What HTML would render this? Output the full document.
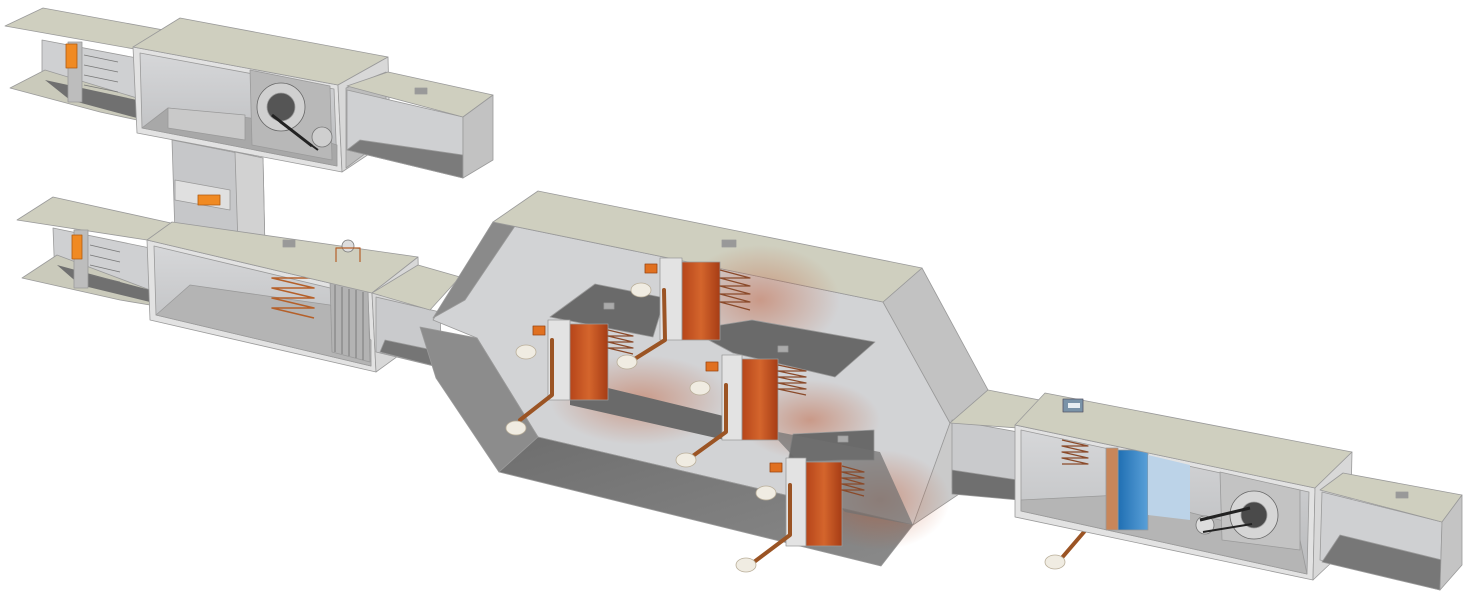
<!DOCTYPE html>
<html><head><meta charset="utf-8"><style>
html,body{margin:0;padding:0;background:#fff;}
svg{display:block}
</style></head><body>
<svg width="1469" height="599" viewBox="0 0 1469 599" xmlns="http://www.w3.org/2000/svg">
<defs>
<linearGradient id="int" x1="0" y1="0" x2="0" y2="1"><stop offset="0" stop-color="#d6d7d9"/><stop offset="1" stop-color="#b9babc"/></linearGradient>
<linearGradient id="flr" x1="0" y1="0" x2="1" y2="1"><stop offset="0" stop-color="#6e6e6e"/><stop offset="1" stop-color="#8a8a8a"/></linearGradient>
<linearGradient id="cu" x1="0" y1="0" x2="1" y2="0"><stop offset="0" stop-color="#b6451a"/><stop offset=".5" stop-color="#d4652c"/><stop offset="1" stop-color="#a63c15"/></linearGradient>
<linearGradient id="blue" x1="0" y1="0" x2="1" y2="0"><stop offset="0" stop-color="#1f6fb3"/><stop offset="1" stop-color="#5aa0d8"/></linearGradient>
<radialGradient id="glow" cx=".5" cy=".5" r=".5"><stop offset="0" stop-color="#c0532a" stop-opacity=".45"/><stop offset="1" stop-color="#c0532a" stop-opacity="0"/></radialGradient>
</defs>
<g stroke="#9a9a9a" stroke-width="0.8" stroke-linejoin="round">

<!-- TOP-LEFT small duct -->
<polygon points="42,40 137,58 137,112 42,88" fill="#cfd0d2"/>
<polygon points="10,88 45,70 137,98 137,120 100,112" fill="#cacabb"/>
<polygon points="45,80 137,100 137,118 70,100" fill="#707070" stroke="none"/>
<polygon points="5,26 43,8 180,33 140,50" fill="#cfcfbf"/>
<rect x="68" y="42" width="14" height="60" fill="#bdbdbd"/>
<rect x="66" y="44" width="11" height="24" fill="#f08a23" stroke="#b05a10"/>
<g stroke="#777"><line x1="84" y1="55" x2="118" y2="62"/><line x1="84" y1="65" x2="118" y2="72"/><line x1="84" y1="75" x2="118" y2="82"/><line x1="84" y1="85" x2="118" y2="92"/></g>

<!-- TOP unit -->
<polygon points="133,47 338,85 342,172 137,133" fill="#e2e2e2"/>
<polygon points="140,53 334,89 337,166 142,128" fill="url(#int)"/>
<polygon points="142,128 168,108 250,118 337,145 337,166" fill="#a8a8a8"/>
<polygon points="168,108 245,115 245,140 168,128" fill="#c9c9c9"/>
<polygon points="250,70 330,86 332,160 252,145" fill="#b8b8b8"/>
<circle cx="281" cy="107" r="24" fill="#d0d0d0" stroke="#666"/>
<circle cx="281" cy="107" r="14" fill="#555"/>
<circle cx="322" cy="137" r="10" fill="#cfcfcf" stroke="#777"/>
<line x1="272" y1="115" x2="312" y2="146" stroke="#222" stroke-width="3"/>
<line x1="280" y1="122" x2="318" y2="150" stroke="#222" stroke-width="2"/>
<polygon points="133,47 180,18 388,57 338,85" fill="#cfcfbf"/>
<polygon points="338,85 388,57 390,140 342,172" fill="#d8d8d8"/>
<polygon points="346,88 386,72 386,138 346,168" fill="#bdbdbd"/>

<!-- right duct of top unit -->
<polygon points="347,90 463,117 463,178 347,150" fill="#cfd0d2"/>
<polygon points="360,140 463,155 463,178 347,150" fill="#7b7b7b"/>
<polygon points="347,86 388,72 493,95 463,117" fill="#cfcfbf"/>
<polygon points="463,117 493,95 493,160 463,178" fill="#c2c2c2"/>
<rect x="415" y="88" width="12" height="6" fill="#999"/>

<!-- vertical shaft -->
<polygon points="172,140 263,158 265,250 175,235" fill="#c6c7c9"/>
<polygon points="235,152 263,158 265,250 238,245" fill="#d2d2d2"/>
<polygon points="175,180 230,190 230,210 175,200" fill="#e0e0e0"/>
<rect x="198" y="195" width="22" height="10" fill="#f08a23" stroke="#b05a10"/>

<!-- LOWER-LEFT small duct -->
<polygon points="53,228 150,248 150,300 55,280" fill="#cfd0d2"/>
<polygon points="22,278 57,255 150,290 150,305 120,300" fill="#cacabb"/>
<polygon points="57,265 150,290 150,302 80,285" fill="#707070" stroke="none"/>
<polygon points="17,220 53,197 180,225 147,240" fill="#cfcfbf"/>
<rect x="74" y="230" width="14" height="58" fill="#bdbdbd"/>
<rect x="72" y="235" width="10" height="24" fill="#f08a23" stroke="#b05a10"/>
<g stroke="#777"><line x1="90" y1="245" x2="120" y2="252"/><line x1="90" y1="255" x2="120" y2="262"/><line x1="90" y1="265" x2="120" y2="272"/><line x1="90" y1="275" x2="120" y2="282"/></g>

<!-- LOWER unit -->
<polygon points="147,240 372,293 376,372 150,320" fill="#e2e2e2"/>
<polygon points="154,246 368,297 371,366 156,315" fill="url(#int)"/>
<polygon points="156,315 190,285 330,305 371,340 371,366" fill="#b4b4b4"/>
<polygon points="330,280 368,290 370,362 332,352" fill="#b3b3b3"/>
<g stroke="#555" stroke-width="0.6"><line x1="335" y1="285" x2="335" y2="352"/><line x1="342" y1="287" x2="342" y2="354"/><line x1="349" y1="289" x2="349" y2="356"/><line x1="356" y1="290" x2="356" y2="358"/><line x1="363" y1="292" x2="363" y2="360"/></g>
<path d="M272,268 l42,10 l-42,0 l42,10 l-42,0 l42,10 l-42,0 l42,10 l-42,0 l42,10" fill="none" stroke="#b5602a" stroke-width="1.6"/>
<polygon points="147,240 172,222 418,257 372,293" fill="#cfcfbf"/>
<polygon points="372,293 418,257 420,340 376,372" fill="#d8d8d8"/>
<rect x="283" y="240" width="12" height="7" fill="#999"/>
<circle cx="348" cy="246" r="6" fill="#ddd" stroke="#777"/>
<path d="M336,262 v-14 h24 v14" fill="none" stroke="#b5602a" stroke-width="1.2"/>

<!-- lower connecting duct -->
<polygon points="376,297 440,312 442,368 376,352" fill="#c9cacc"/>
<polygon points="385,340 442,352 442,368 380,352" fill="#757575"/>
<polygon points="372,293 418,265 460,277 430,310" fill="#cfcfbf"/>

<!-- BIG HEX unit -->
<polygon points="493,222 883,302 950,423 913,525 538,437 477,338 433,320" fill="#d2d3d5"/>
<polygon points="493,222 515,226 465,300 433,318" fill="#8a8a8a"/>
<polygon points="420,327 477,338 538,437 499,472 436,378" fill="#8c8c8c"/>
<polygon points="499,472 538,437 913,525 881,566" fill="url(#flr)"/>
<polygon points="883,302 922,268 988,390 950,423" fill="#c2c2c2"/>
<polygon points="950,423 988,390 965,490 913,525" fill="#cacaca"/>
<polygon points="493,222 538,191 922,268 883,302" fill="#cfcfbf"/>
<rect x="722" y="240" width="14" height="7" fill="#999"/>
<!-- glows -->
<ellipse cx="760" cy="300" rx="80" ry="55" fill="url(#glow)" stroke="none"/>
<ellipse cx="640" cy="400" rx="90" ry="45" fill="url(#glow)" stroke="none"/>
<ellipse cx="810" cy="420" rx="70" ry="40" fill="url(#glow)" stroke="none"/>
<ellipse cx="880" cy="500" rx="70" ry="50" fill="url(#glow)" stroke="none"/>
<!-- shelves & dark floors -->
<polygon points="550,317 595,284 665,298 653,337" fill="#6a6a6a"/>
<rect x="604" y="303" width="10" height="6" fill="#aaa"/>
<polygon points="690,330 752,320 875,342 835,377 733,353" fill="#6a6a6a"/>
<rect x="778" y="346" width="10" height="6" fill="#aaa"/>
<polygon points="793,434 874,430 874,460 841,460 788,462" fill="#6a6a6a"/>
<rect x="838" y="436" width="10" height="6" fill="#aaa"/>
<polygon points="570,398 608,388 740,420 725,440 570,405" fill="#6a6a6a" stroke="none"/>
<polygon points="778,432 880,452 913,525 845,512 778,440" fill="#707070" stroke="none" opacity=".7"/>
<!-- coils -->
<rect x="660" y="258" width="22" height="82" fill="#e3e3e3"/>
<rect x="682" y="262" width="38" height="78" fill="url(#cu)"/>
<rect x="548" y="320" width="22" height="80" fill="#e3e3e3"/>
<rect x="570" y="324" width="38" height="76" fill="url(#cu)"/>
<rect x="722" y="355" width="20" height="85" fill="#e3e3e3"/>
<rect x="742" y="359" width="36" height="81" fill="url(#cu)"/>
<rect x="786" y="458" width="20" height="88" fill="#e3e3e3"/>
<rect x="806" y="462" width="36" height="84" fill="url(#cu)"/>
<g fill="none" stroke="#8a4a2a" stroke-width="1.2">
<path d="M720,270 l30,8 l-30,0 l30,8 l-30,0 l30,8 l-30,0 l30,8 l-30,0 l30,8"/>
<path d="M608,330 l25,6 l-25,0 l25,6 l-25,0 l25,6 l-25,0 l25,6"/>
<path d="M778,365 l28,6 l-28,0 l28,6 l-28,0 l28,6 l-28,0 l28,6 l-28,0 l28,6"/>
<path d="M842,466 l22,6 l-22,0 l22,6 l-22,0 l22,6 l-22,0 l22,6 l-22,0 l22,6"/>
</g>
<!-- pipes -->
<g stroke="#9b5424" stroke-width="4" fill="none" stroke-linecap="round">
<path d="M664,290 L665,340 L625,365"/><path d="M552,340 L552,395 L520,420"/>
<path d="M726,385 L726,432 L690,458"/><path d="M790,485 L790,535 L750,565"/>
<path d="M1096,478 L1096,518 L1060,560"/>
</g>
<g fill="#f0ece2" stroke="#b9ae99">
<ellipse cx="641" cy="290" rx="10" ry="7"/><ellipse cx="526" cy="352" rx="10" ry="7"/>
<ellipse cx="627" cy="362" rx="10" ry="7"/><ellipse cx="516" cy="428" rx="10" ry="7"/>
<ellipse cx="700" cy="388" rx="10" ry="7"/><ellipse cx="686" cy="460" rx="10" ry="7"/>
<ellipse cx="766" cy="493" rx="10" ry="7"/><ellipse cx="746" cy="565" rx="10" ry="7"/>
<ellipse cx="1074" cy="488" rx="10" ry="7"/><ellipse cx="1055" cy="562" rx="10" ry="7"/>
</g>
<g fill="#e07020" stroke="#9a4410">
<rect x="645" y="264" width="12" height="9"/><rect x="533" y="326" width="12" height="9"/>
<rect x="706" y="362" width="12" height="9"/><rect x="770" y="463" width="12" height="9"/>
<rect x="1088" y="455" width="14" height="9"/>
</g>

<!-- RIGHT connecting duct -->
<polygon points="952,420 1018,432 1018,500 952,488" fill="#c9cacc"/>
<polygon points="952,470 1018,480 1018,500 952,494" fill="#6f6f6f"/>
<polygon points="950,423 988,390 1050,402 1018,428" fill="#cfcfbf"/>

<!-- RIGHT unit -->
<polygon points="1015,425 1315,488 1313,580 1015,517" fill="#e2e2e2"/>
<polygon points="1021,430 1309,492 1307,574 1021,511" fill="url(#int)"/>
<polygon points="1021,500 1120,495 1300,540 1307,574 1021,511" fill="#b5b5b5"/>
<rect x="1118" y="450" width="30" height="80" fill="url(#blue)"/>
<rect x="1106" y="448" width="12" height="82" fill="#c8865a"/>
<polygon points="1148,455 1190,465 1190,520 1148,515" fill="#bcd3e8" stroke="none"/>
<polygon points="1220,472 1300,490 1300,550 1222,540" fill="#c3c3c3"/>
<circle cx="1254" cy="515" r="24" fill="#d6d6d6" stroke="#666"/>
<circle cx="1254" cy="515" r="13" fill="#4a4a4a"/>
<circle cx="1205" cy="525" r="9" fill="#ddd" stroke="#777"/>
<line x1="1200" y1="520" x2="1250" y2="508" stroke="#222" stroke-width="3"/>
<line x1="1203" y1="532" x2="1252" y2="524" stroke="#222" stroke-width="2"/>
<path d="M1062,440 l26,6 l-26,0 l26,6 l-26,0 l26,6 l-26,0 l26,6 l-26,0" fill="none" stroke="#8a4a2a" stroke-width="1.2"/>
<polygon points="1015,425 1045,393 1352,452 1315,488" fill="#cfcfbf"/>
<polygon points="1315,488 1352,452 1350,545 1313,580" fill="#d8d8d8"/>
<rect x="1063" y="399" width="20" height="13" fill="#7a93a8" stroke="#556"/>
<rect x="1068" y="403" width="12" height="5" fill="#e8eef2" stroke="none"/>

<!-- final duct -->
<polygon points="1322,492 1442,522 1440,590 1320,560" fill="#cfd0d2"/>
<polygon points="1340,535 1442,560 1440,590 1322,562" fill="#777"/>
<polygon points="1320,490 1343,473 1462,495 1442,522" fill="#cfcfbf"/>
<polygon points="1442,522 1462,495 1462,565 1440,590" fill="#c4c4c4"/>
<rect x="1396" y="492" width="12" height="6" fill="#999"/>
</g>
</svg>
</body></html>
